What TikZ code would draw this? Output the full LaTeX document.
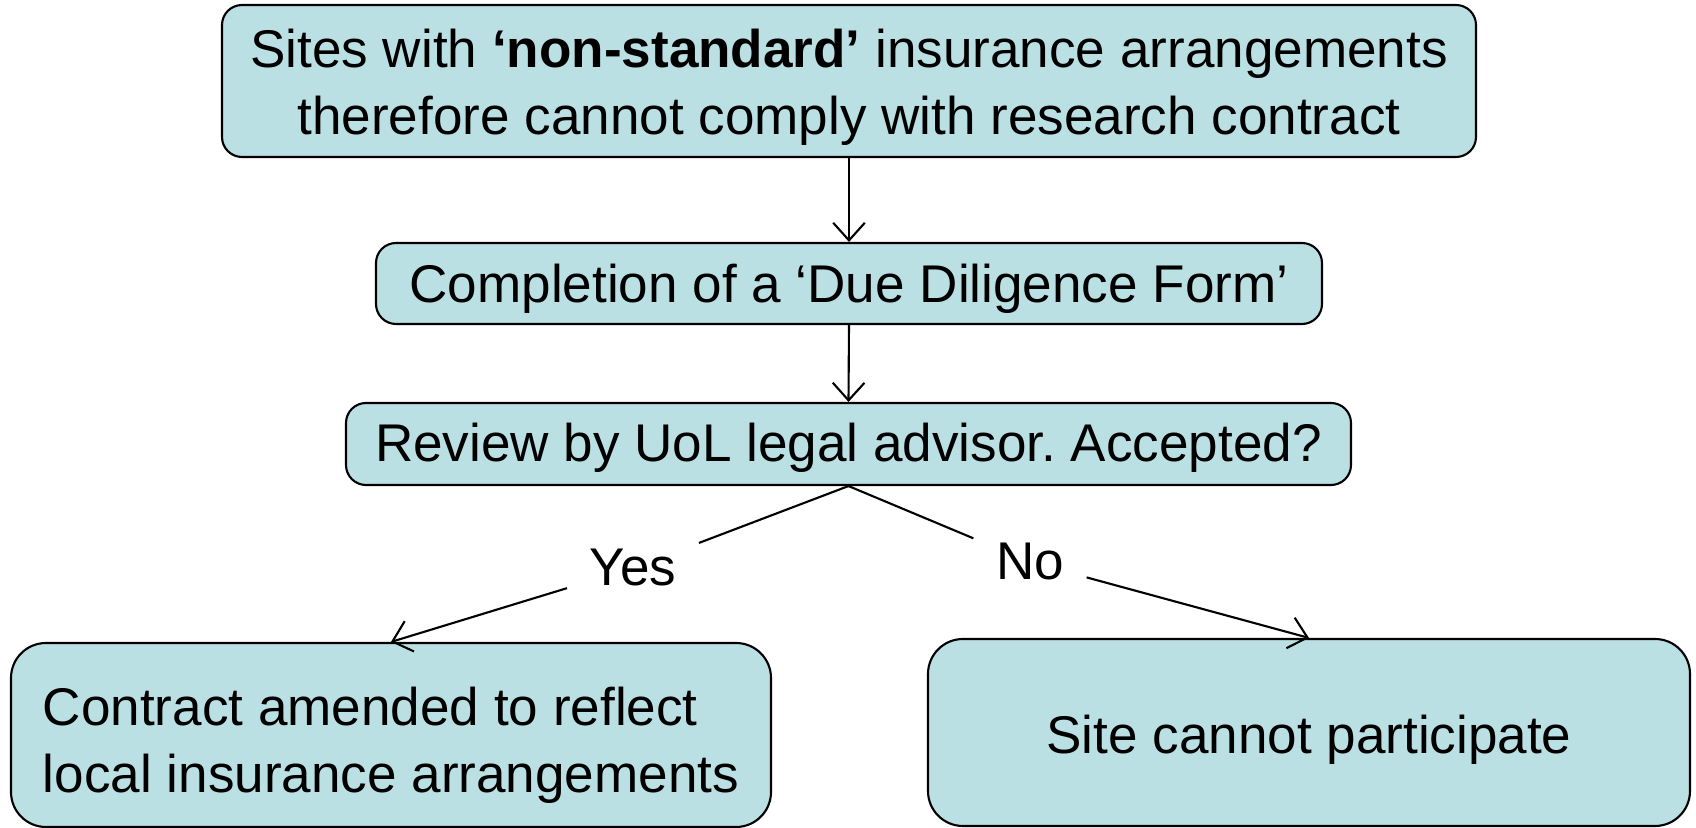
\documentclass[tikz,border=0pt]{standalone}
\usepackage{fontspec}
\setmainfont{Liberation Sans}
\frenchspacing
\usetikzlibrary{arrows.meta,positioning}
\definecolor{boxblue}{RGB}{187,224,227}
\newcommand{\lowered}[2]{\raisebox{-#1}[\height][\depth]{#2}}
\tikzset{every node/.style={font=\fontsize{15.1}{18.6}\selectfont}}
\tikzset{box/.style={draw=black, fill=boxblue, rounded corners=0.2cm, line width=0.6pt, inner sep=0pt, align=center}}
\tikzset{bigbox/.style={box, rounded corners=0.35cm}}
\tikzset{answer/.style={inner xsep=0.22cm, inner ysep=0.12cm}}
\tikzset{link/.style={line width=0.6pt}}
\tikzset{arrow/.style={link, -{Straight Barb[length=5pt,width=9pt]}}}

\begin{document}
\begin{tikzpicture}
\useasboundingbox (0,0) rectangle (16.96,8.28);
\node[box, minimum width=12.54cm, minimum height=1.52cm] (sites) at (8.49,7.47)
    {\lowered{0.7mm}{\begin{tabular}{@{}c@{}}Sites with \textbf{‘non-standard’} insurance arrangements\\[0.2mm]therefore cannot comply with research contract\end{tabular}}};
\node[box, minimum width=9.46cm, minimum height=0.81cm] (form) at (8.49,5.445)
    {\lowered{0.5mm}{Completion of a ‘Due Diligence Form’}};
\node[box, minimum width=10.05cm, minimum height=0.82cm] (review) at (8.485,3.84)
    {\lowered{0.4mm}{Review by UoL legal advisor. Accepted?}};
\node[bigbox, minimum width=7.60cm, minimum height=1.84cm, align=left] (amend) at (3.91,0.93)
    {\lowered{1.1mm}{\begin{tabular}{@{}l@{}}Contract amended to reflect\\[0.1mm]local insurance arrangements\end{tabular}}};
\node[bigbox, minimum width=7.62cm, minimum height=1.87cm] (stop) at (13.09,0.955)
    {\lowered{0.7mm}{Site cannot participate}};
\node[answer] (yes) at (6.33,2.60) {Yes};
\node[answer] (no) at (10.30,2.66) {No};

\draw[arrow] (sites.south) -- (form.north);
\draw[arrow] (form.south) -- (review.north);
\draw[link] (review.south) -- (yes);
\draw[arrow] (yes) -- (amend.north);
\draw[link] (review.south) -- (no);
\draw[arrow] (no) -- (stop.north);
\end{tikzpicture}
\end{document}
